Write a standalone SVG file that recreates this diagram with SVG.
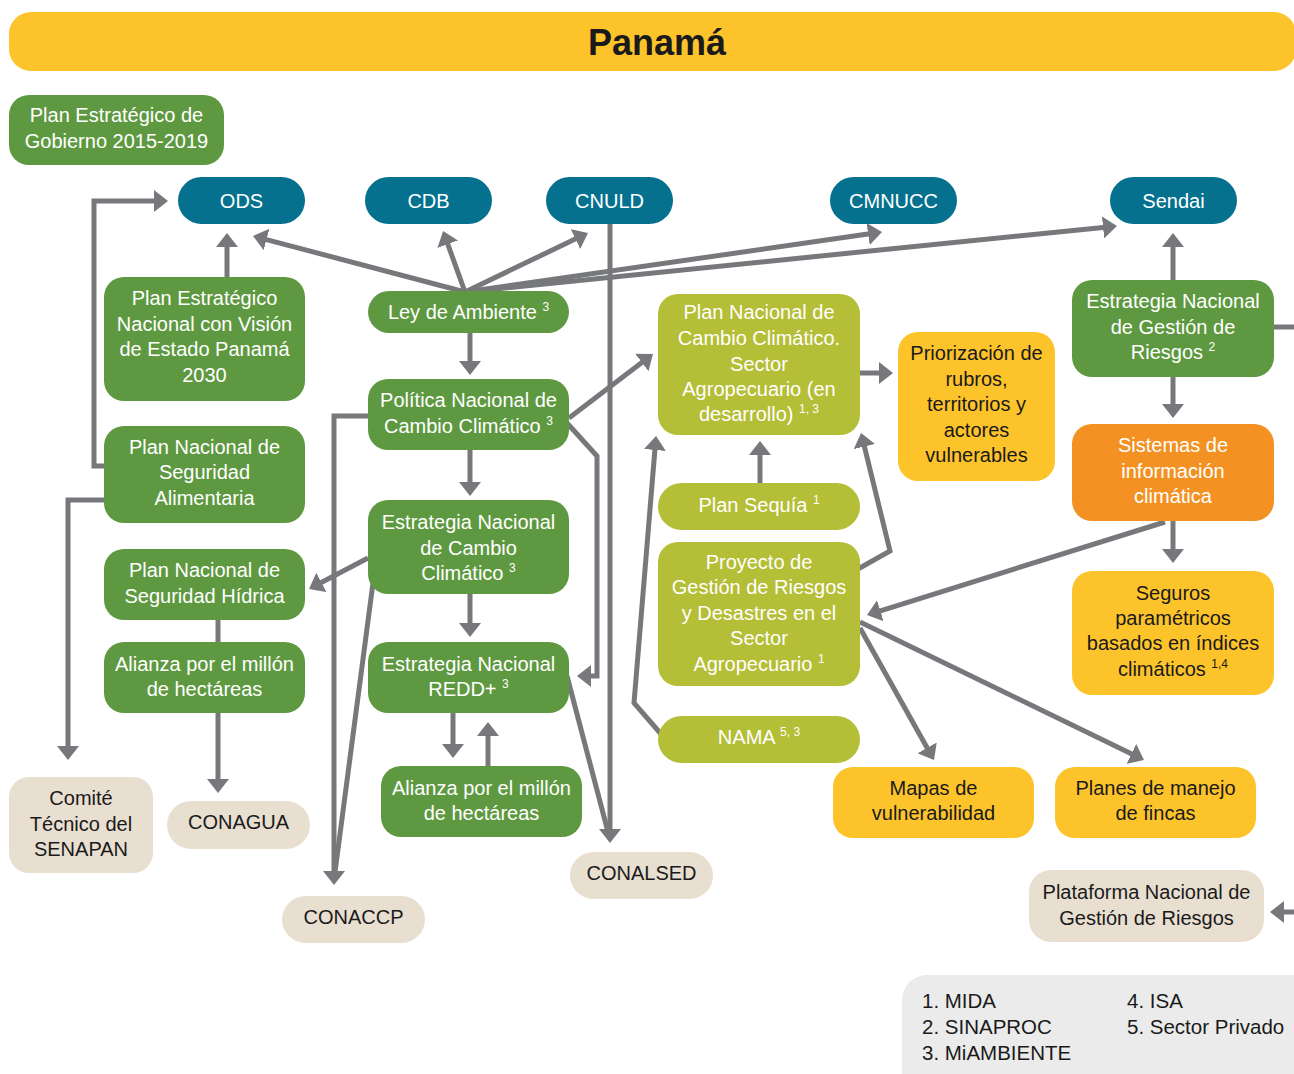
<svg xmlns="http://www.w3.org/2000/svg" width="1294" height="1074" viewBox="0 0 1294 1074">
<style>
text{font-family:"Liberation Sans",Arial,sans-serif;font-size:20px;text-anchor:middle}
.w{fill:#ffffff}
.k{fill:#1a1a1a}
.g{fill:#5e9941}
.l{fill:#b4be36}
.b{fill:#05718e}
.y{fill:#fdc32b}
.o{fill:#f39222}
.e{fill:#e8dfd1}
.c{fill:none;stroke:#77787b;stroke-width:5;stroke-linejoin:miter}
.a{marker-end:url(#ah)}
.s{font-size:12px}
.leg{text-anchor:start;font-size:20.5px;fill:#1a1a1a}
</style>
<defs>
<marker id="ah" viewBox="0 0 14 22" markerWidth="14" markerHeight="22" refX="5" refY="11" orient="auto" markerUnits="userSpaceOnUse">
<path d="M0,0 L14,11 L0,22 z" fill="#77787b"/>
</marker>
</defs>

<g id="title">
<rect x="9" y="12" width="1287" height="59" rx="22" class="y"/>
<text x="657" y="55" style="font-size:36px;font-weight:bold" class="k">Panamá</text>
</g>

<g id="connectors">
<path class="c a" d="M227,277 V242"/>
<path class="c a" d="M104,466 H94 V201 H159"/>
<path class="c a" d="M104,500 H68 V751"/>
<path class="c" d="M218,620 V642"/>
<path class="c a" d="M218,713 V784"/>
<path class="c a" d="M465,292 L261.7,238.3"/>
<path class="c a" d="M465,292 L446.1,239.5"/>
<path class="c a" d="M465,292 L579.9,236.8"/>
<path class="c a" d="M465,292 L873.1,233.3"/>
<path class="c a" d="M465,292 L1108,226.9"/>
<path class="c a" d="M1173,280 V242"/>
<path class="c a" d="M1173,377 V409"/>
<path class="c" d="M1274,327 H1296"/>
<path class="c a" d="M1173,521 V554"/>
<path class="c a" d="M1165,522 L875.6,612.3"/>
<path class="c a" d="M860,628 L929.6,752.2"/>
<path class="c a" d="M860,622 L1135.9,756.1"/>
<path class="c a" d="M858,569 L890,551 L863.2,441.7"/>
<path class="c a" d="M760,483 V450"/>
<path class="c a" d="M661,734 L634,703 L655.3,445"/>
<path class="c a" d="M569,418 L645.8,359.5"/>
<path class="c a" d="M860,373 H884"/>
<path class="c a" d="M567,423 L597,456 V676 H586"/>
<path class="c a" d="M610,224 V834"/>
<path class="c" d="M567,676 L608,832"/>
<path class="c a" d="M368,416 H334 V876"/>
<path class="c" d="M373,583 L335,872"/>
<path class="c a" d="M368,558 L317,584.8"/>
<path class="c a" d="M470,333 V366"/>
<path class="c a" d="M470,450 V487"/>
<path class="c a" d="M470,594 V628"/>
<path class="c a" d="M453,713 V749"/>
<path class="c a" d="M488,766 V731"/>
<path class="c a" d="M1296,912 H1279"/>
</g>

<g id="n-gobierno"><rect x="9" y="95" width="215" height="70" rx="20" class="g"/>
<text x="116.5" y="122" class="w">Plan Estratégico de</text><text x="116.5" y="148" class="w">Gobierno 2015-2019</text></g>

<g id="n-ods"><rect x="178" y="177" width="127" height="47" rx="23.5" class="b"/><text x="241.5" y="208" class="w">ODS</text></g>
<g id="n-cdb"><rect x="365" y="177" width="127" height="47" rx="23.5" class="b"/><text x="428.5" y="208" class="w">CDB</text></g>
<g id="n-cnuld"><rect x="546" y="177" width="127" height="47" rx="23.5" class="b"/><text x="609.5" y="208" class="w">CNULD</text></g>
<g id="n-cmnucc"><rect x="830" y="177" width="127" height="47" rx="23.5" class="b"/><text x="893.5" y="208" class="w">CMNUCC</text></g>
<g id="n-sendai"><rect x="1110" y="177" width="127" height="47" rx="23.5" class="b"/><text x="1173.5" y="208" class="w">Sendai</text></g>

<g id="n-penv"><rect x="104" y="277" width="201" height="124" rx="20" class="g"/>
<text x="204.5" y="305" class="w">Plan Estratégico</text><text x="204.5" y="331" class="w">Nacional con Visión</text><text x="204.5" y="356" class="w">de Estado Panamá</text><text x="204.5" y="382" class="w">2030</text></g>
<g id="n-alimentaria"><rect x="104" y="426" width="201" height="97" rx="20" class="g"/>
<text x="204.5" y="454" class="w">Plan Nacional de</text><text x="204.5" y="479" class="w">Seguridad</text><text x="204.5" y="505" class="w">Alimentaria</text></g>
<g id="n-hidrica"><rect x="104" y="549" width="201" height="71" rx="20" class="g"/>
<text x="204.5" y="577" class="w">Plan Nacional de</text><text x="204.5" y="603" class="w">Seguridad Hídrica</text></g>
<g id="n-alianza1"><rect x="104" y="642" width="201" height="71" rx="20" class="g"/>
<text x="204.5" y="671" class="w">Alianza por el millón</text><text x="204.5" y="696" class="w">de hectáreas</text></g>

<g id="n-ley"><rect x="368" y="291" width="201" height="42" rx="21" class="g"/>
<text x="468.5" y="319" class="w">Ley de Ambiente <tspan class="s" dy="-8">3</tspan></text></g>
<g id="n-politica"><rect x="368" y="379" width="201" height="71" rx="20" class="g"/>
<text x="468.5" y="407" class="w">Política Nacional de</text><text x="468.5" y="433" class="w">Cambio Climático <tspan class="s" dy="-8">3</tspan></text></g>
<g id="n-encc"><rect x="368" y="500" width="201" height="94" rx="20" class="g"/>
<text x="468.5" y="529" class="w">Estrategia Nacional</text><text x="468.5" y="555" class="w">de Cambio</text><text x="468.5" y="580" class="w">Climático <tspan class="s" dy="-8">3</tspan></text></g>
<g id="n-redd"><rect x="368" y="642" width="201" height="71" rx="20" class="g"/>
<text x="468.5" y="671" class="w">Estrategia Nacional</text><text x="468.5" y="696" class="w">REDD+ <tspan class="s" dy="-8">3</tspan></text></g>
<g id="n-alianza2"><rect x="381" y="766" width="201" height="71" rx="20" class="g"/>
<text x="481.5" y="795" class="w">Alianza por el millón</text><text x="481.5" y="820" class="w">de hectáreas</text></g>

<g id="n-pncc"><rect x="658" y="294" width="202" height="141" rx="20" class="l"/>
<text x="759" y="319" class="w">Plan Nacional de</text><text x="759" y="345" class="w">Cambio Climático.</text><text x="759" y="371" class="w">Sector</text><text x="759" y="396" class="w">Agropecuario (en</text><text x="759" y="421" class="w">desarrollo) <tspan class="s" dy="-8">1, 3</tspan></text></g>
<g id="n-sequia"><rect x="658" y="483" width="202" height="47" rx="23.5" class="l"/>
<text x="759" y="512" class="w">Plan Sequía <tspan class="s" dy="-8">1</tspan></text></g>
<g id="n-proyecto"><rect x="658" y="542" width="202" height="144" rx="20" class="l"/>
<text x="759" y="569" class="w">Proyecto de</text><text x="759" y="594" class="w">Gestión de Riesgos</text><text x="759" y="620" class="w">y Desastres en el</text><text x="759" y="645" class="w">Sector</text><text x="759" y="671" class="w">Agropecuario <tspan class="s" dy="-8">1</tspan></text></g>
<g id="n-nama"><rect x="658" y="716" width="202" height="47" rx="23.5" class="l"/>
<text x="759" y="744" class="w">NAMA <tspan class="s" dy="-8">5, 3</tspan></text></g>

<g id="n-priorizacion"><rect x="898" y="332" width="157" height="149" rx="20" class="y"/>
<text x="976.5" y="360" class="k">Priorización de</text><text x="976.5" y="386" class="k">rubros,</text><text x="976.5" y="411" class="k">territorios y</text><text x="976.5" y="437" class="k">actores</text><text x="976.5" y="462" class="k">vulnerables</text></g>
<g id="n-mapas"><rect x="833" y="767" width="201" height="71" rx="20" class="y"/>
<text x="933.5" y="795" class="k">Mapas de</text><text x="933.5" y="820" class="k">vulnerabilidad</text></g>
<g id="n-planes"><rect x="1055" y="767" width="201" height="71" rx="20" class="y"/>
<text x="1155.5" y="795" class="k">Planes de manejo</text><text x="1155.5" y="820" class="k">de fincas</text></g>

<g id="n-engr"><rect x="1072" y="280" width="202" height="97" rx="20" class="g"/>
<text x="1173" y="308" class="w">Estrategia Nacional</text><text x="1173" y="334" class="w">de Gestión de</text><text x="1173" y="359" class="w">Riesgos <tspan class="s" dy="-8">2</tspan></text></g>
<g id="n-sistemas"><rect x="1072" y="424" width="202" height="97" rx="20" class="o"/>
<text x="1173" y="452" class="w">Sistemas de</text><text x="1173" y="478" class="w">información</text><text x="1173" y="503" class="w">climática</text></g>
<g id="n-seguros"><rect x="1072" y="571" width="202" height="124" rx="20" class="y"/>
<text x="1173" y="600" class="k">Seguros</text><text x="1173" y="625" class="k">paramétricos</text><text x="1173" y="650" class="k">basados en índices</text><text x="1173" y="676" class="k">climáticos <tspan class="s" dy="-8">1,4</tspan></text></g>

<g id="n-comite"><rect x="9" y="777" width="144" height="96" rx="20" class="e"/>
<text x="81" y="805" class="k">Comité</text><text x="81" y="831" class="k">Técnico del</text><text x="81" y="856" class="k">SENAPAN</text></g>
<g id="n-conagua"><rect x="167" y="801" width="143" height="48" rx="24" class="e"/><text x="238.5" y="829" class="k">CONAGUA</text></g>
<g id="n-conaccp"><rect x="282" y="896" width="143" height="47" rx="23.5" class="e"/><text x="353.5" y="924" class="k">CONACCP</text></g>
<g id="n-conalsed"><rect x="570" y="852" width="143" height="47" rx="23.5" class="e"/><text x="641.5" y="880" class="k">CONALSED</text></g>
<g id="n-plataforma"><rect x="1029" y="870" width="235" height="72" rx="22" class="e"/>
<text x="1146.5" y="899" class="k">Plataforma Nacional de</text><text x="1146.5" y="925" class="k">Gestión de Riesgos</text></g>

<g id="legend"><rect x="902" y="975" width="420" height="130" rx="25" fill="#ebebeb"/>
<text x="922" y="1008" class="leg">1. MIDA</text><text x="922" y="1034" class="leg">2. SINAPROC</text><text x="922" y="1060" class="leg">3. MiAMBIENTE</text>
<text x="1127" y="1008" class="leg">4. ISA</text><text x="1127" y="1034" class="leg">5. Sector Privado</text></g>
</svg>
